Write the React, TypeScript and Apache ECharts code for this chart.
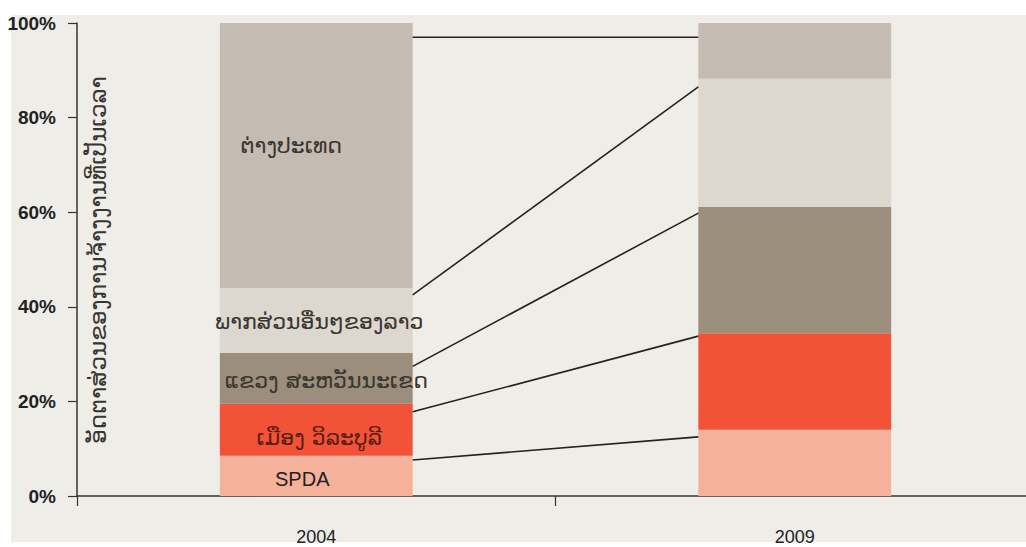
import React, { useEffect, useRef } from "react";
import * as echarts from "echarts";

const years = ["2004", "2009"];
const seriesNames = [
  "SPDA",
  "ເມືອງ ວິລະບູລີ",
  "ແຂວງ ສະຫວັນນະເຂດ",
  "ພາກສ່ວນອື່ນໆຂອງລາວ",
  "ຕ່າງປະເທດ",
];
const spda = [8.5, 14.0];
const vilabouly = [11.0, 20.4];
const savannakhet = [10.8, 26.7];
const otherLao = [13.7, 27.1];
const foreign = [56.0, 11.8];
const yTicks = [0, 20, 40, 60, 80, 100];
// connector line ends (percent) at right edge of 2004 bar and left edge of 2009 bar
const connector2004 = [7.6, 17.8, 27.4, 42.5, 97.0];
const connector2009 = [12.5, 33.8, 59.8, 86.5, 97.0];
const yAxisTitle = "ອັດຕາສ່ວນຂອງການຈ້າງງານທີ່ເປັນເວລາ";

const colors = ["#f5b199", "#f25338", "#9b8e7c", "#ddd8cf", "#c4bcb2"];
const labelColors = ["#222222", "#5a1e10", "#3a3530", "#3a3530", "#3a3530"];
const labelOffsets = [
  [-14, 3],
  [3, 8],
  [10, 2],
  [3, 1],
  [-25, -10],
];

export default function App() {
  const ref = useRef<HTMLDivElement>(null);
  useEffect(() => {
    document.body.style.margin = "0";
    const chart = echarts.init(ref.current!, null, { renderer: "svg" });
    const values = [spda, vilabouly, savannakhet, otherLao, foreign];
    const barFrac = 0.403; // bar width as fraction of band
    const xLeftEdge = 0.5 + barFrac / 2; // right edge of 2004 bar in band units
    const xRightEdge = 1.5 - barFrac / 2; // left edge of 2009 bar
    const barSeries = values.map((vals, i) => ({
      type: "bar",
      name: seriesNames[i],
      stack: "total",
      xAxisIndex: 0,
      yAxisIndex: 0,
      barWidth: "40.3%",
      data: vals,
      itemStyle: { color: colors[i] },
      label: {
        show: true,
        position: "inside",
        offset: labelOffsets[i],
        color: labelColors[i],
        fontSize: i === 0 ? 20 : 22,
        fontFamily: i === 0 ? "Liberation Sans, Arial" : "DejaVu Sans, sans-serif",
        formatter: (p: any) => (p.dataIndex === 0 ? seriesNames[i] : ""),
      },
    }));
    const lineSeries = connector2004.map((v, i) => ({
      type: "line",
      xAxisIndex: 1,
      yAxisIndex: 0,
      data: [
        [xLeftEdge, v],
        [xRightEdge, connector2009[i]],
      ],
      symbol: "none",
      lineStyle: { color: "#222222", width: 1.6 },
      silent: true,
      z: 5,
    }));
    chart.setOption({
      animation: false,
      backgroundColor: "#ffffff",
      graphic: [
        {
          type: "rect",
          shape: { x: 11, y: 15, width: 1015, height: 527 },
          style: { fill: "#efede8" },
          z: -10,
          silent: true,
        },
        {
          type: "text",
          x: 98,
          y: 260,
          rotation: Math.PI / 2,
          style: {
            text: yAxisTitle,
            fontFamily: "DejaVu Sans, sans-serif",
            fontSize: 23,
            fill: "#3a3530",
            align: "center",
            verticalAlign: "middle",
          },
          z: 10,
          silent: true,
        },
      ],
      grid: {
        left: 77,
        top: 23,
        width: 957,
        height: 473,
        containLabel: false,
        outerBoundsMode: "none",
      },
      xAxis: [
        {
          type: "category",
          data: years,
          axisLine: { show: true, lineStyle: { color: "#333333", width: 1.5 } },
          axisTick: { show: true, length: 10, lineStyle: { color: "#333333", width: 1.2 } },
          axisLabel: {
            color: "#222222",
            fontSize: 18,
            fontFamily: "Liberation Sans Narrow, Liberation Sans, Arial",
            margin: 32,
          },
        },
        {
          type: "value",
          min: 0,
          max: 2,
          show: false,
        },
      ],
      yAxis: [
        {
          type: "value",
          min: 0,
          max: 100,
          interval: 20,
          axisLine: { show: true, lineStyle: { color: "#333333", width: 1.5 } },
          axisTick: { show: true, length: 9, lineStyle: { color: "#333333", width: 1.2 } },
          splitLine: { show: false },
          axisLabel: {
            formatter: (v: number) => (yTicks.includes(v) ? v + "%" : ""),
            color: "#222222",
            fontWeight: "bold",
            fontSize: 19,
            fontFamily: "Liberation Sans Narrow, Liberation Sans, Arial",
            margin: 21,
          },
        },
      ],
      series: [...barSeries, ...lineSeries],
    });
    return () => chart.dispose();
  }, []);
  return <div ref={ref} style={{ width: 1026, height: 547 }} />;
}
